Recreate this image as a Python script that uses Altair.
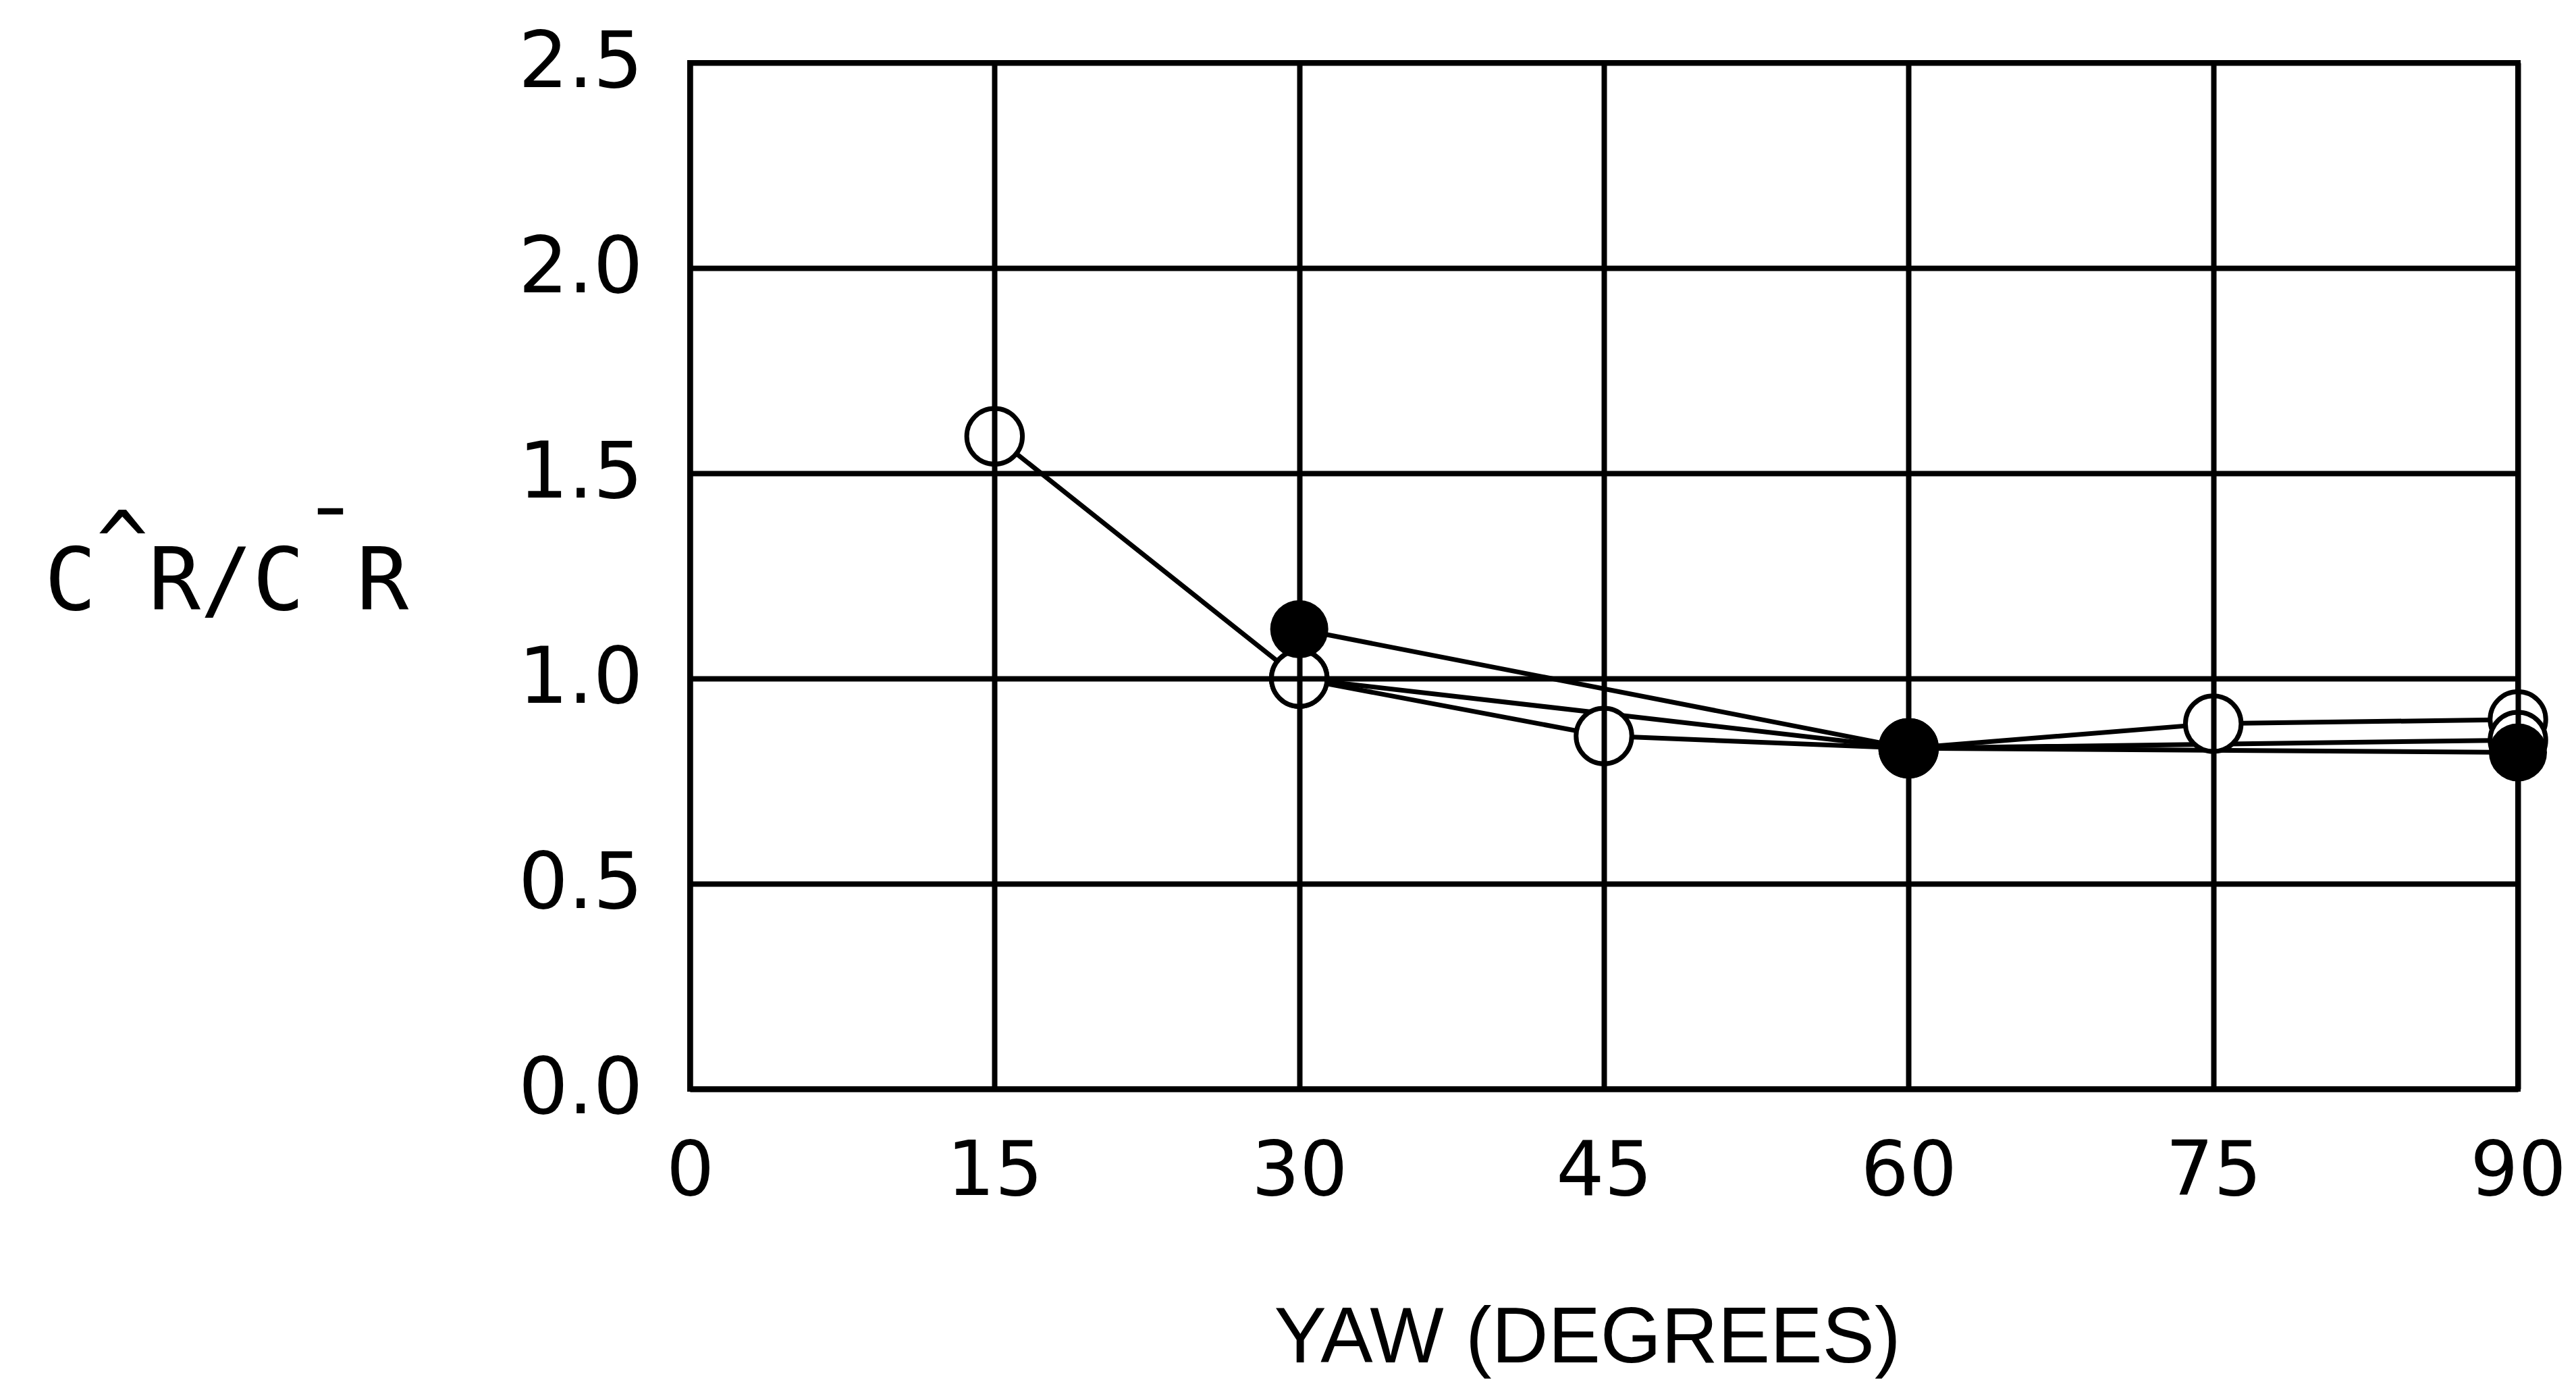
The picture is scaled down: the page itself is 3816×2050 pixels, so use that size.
import altair as alt
import pandas as pd

# Series
yaw_a = [15, 30, 45, 60, 75, 90]
ratio_a = [1.59, 1.00, 0.86, 0.83, 0.89, 0.90]   # open circles

yaw_b = [30, 60, 90]
ratio_b = [1.12, 0.83, 0.82]                     # filled circles

yaw_c = [30, 60, 90]
ratio_c = [1.00, 0.83, 0.85]                     # open circles

x_ticks = [0, 15, 30, 45, 60, 75, 90]
y_ticks = [0.0, 0.5, 1.0, 1.5, 2.0, 2.5]

NB = "\u00a0"
y_title = [NB + "^" + NB + NB + NB + "¯" + NB, "C" + NB + "R/C" + NB + "R"]
x_title = "YAW (DEGREES)"

rows = []
for s, xs, ys, filled in [("A", yaw_a, ratio_a, False),
                          ("B", yaw_b, ratio_b, True),
                          ("C", yaw_c, ratio_c, False)]:
    for xv, yv in zip(xs, ys):
        rows.append({"yaw": xv, "ratio": yv, "series": s, "filled": filled})
df = pd.DataFrame(rows)

LABEL_FONT = "DejaVu Sans"
TITLE_FONT = "Liberation Sans"

x_enc = alt.X("yaw:Q",
              scale=alt.Scale(domain=[0, 90], nice=False, zero=False),
              axis=alt.Axis(values=x_ticks, format="d", grid=True, gridColor="black",
                            gridWidth=8, gridOpacity=1, domainColor="black", domainWidth=8,
                            ticks=False, labelFont=LABEL_FONT, labelFontSize=112,
                            labelColor="black", labelPadding=68, labelFlush=False,
                            labelLimit=600, zindex=1,
                            title=x_title, titleFont=TITLE_FONT, titleFontSize=116,
                            titleFontWeight="normal", titleColor="black",
                            titleBaseline="alphabetic", titleX=1329, titleY=404,
                            titleAlign="center"))
y_enc = alt.Y("ratio:Q",
              scale=alt.Scale(domain=[0, 2.5], nice=False, zero=False),
              axis=alt.Axis(values=y_ticks, format=".1f", grid=True, gridColor="black",
                            gridWidth=8, gridOpacity=1, domainColor="black", domainWidth=8,
                            ticks=False, labelFont=LABEL_FONT, labelFontSize=116,
                            labelColor="black", labelPadding=70, labelFlush=False,
                            labelLimit=600, zindex=1,
                            title=y_title, titleFont="DejaVu Sans Mono", titleFontSize=128,
                            titleFontWeight="normal", titleColor="black", titleAngle=0,
                            titleAlign="center", titleBaseline="alphabetic",
                            titleLineHeight=54, titleX=-687, titleY=755,
                            titleLimit=1000))

base = alt.Chart(df)

lines = base.mark_line(color="black", strokeWidth=7).encode(
    x=x_enc, y=y_enc, detail="series:N", order="yaw:Q")

open_pts = base.transform_filter(alt.datum.filled == False).mark_circle(
    fill="white", stroke="black", size=6800, strokeWidth=7, opacity=1,
    fillOpacity=1, strokeOpacity=1
).encode(x="yaw:Q", y="ratio:Q")

filled_pts = base.transform_filter(alt.datum.filled == True).mark_circle(
    color="black", size=7400, opacity=1
).encode(x="yaw:Q", y="ratio:Q")

chart = alt.layer(lines, open_pts, filled_pts).properties(
    width=2708, height=1520,
    autosize=alt.AutoSizeParams(type="none"),
    padding={"left": 1014, "top": 85, "right": 78, "bottom": 435},
    background="white",
).configure_view(stroke="black", strokeWidth=8)

chart.save("out.html", embed_options={"renderer": "svg", "actions": False})
